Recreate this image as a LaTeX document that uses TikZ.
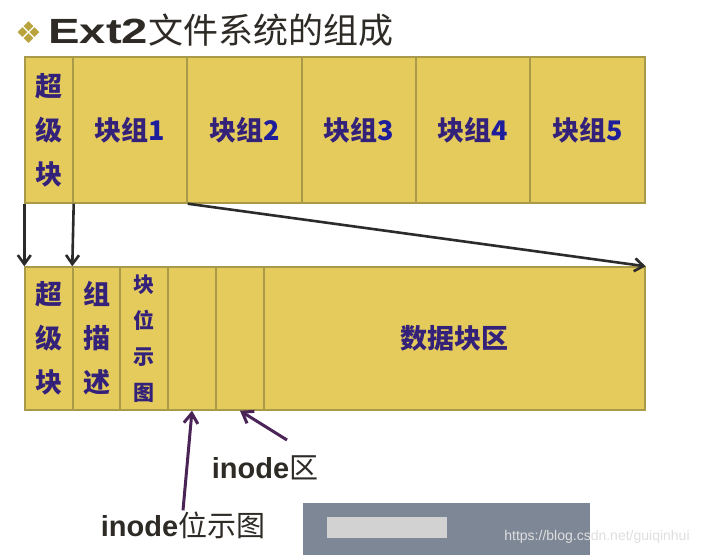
\documentclass[tikz,border=0pt]{standalone}
\usepackage{fontspec}
\usepackage{tikz}
\usetikzlibrary{arrows.meta}
\setmainfont{Liberation Sans}
\newfontfamily\cjk{Noto Sans CJK SC}
\newfontfamily\dingfont{DejaVu Sans}
\definecolor{blockfill}{HTML}{E4CB5C}
\definecolor{blockline}{HTML}{A89A48}
\definecolor{labelink}{HTML}{33217A}
\definecolor{numink}{HTML}{1E1E9C}
\definecolor{arrowink}{HTML}{2B2B2B}
\definecolor{pointink}{HTML}{4A2456}
\definecolor{titleink}{HTML}{2E2A26}
\definecolor{bulletink}{HTML}{B9A33C}
\definecolor{wmgray}{HTML}{7E8796}

\begin{document}
\begin{tikzpicture}[x=1pt,y=-1pt]
\tikzset{blk/.style = {shape=rectangle,draw=blockline,fill=blockfill,line width=1.4pt,inner sep=0pt,align=center,text=labelink,font=\cjk\bfseries\fontsize{27}{44}\selectfont}}
\tikzset{toprow/.style = {blk,minimum height=146pt}}
\tikzset{lowrow/.style = {blk,minimum height=143pt}}
\tikzset{edge/.style = {-{Straight Barb[length=9pt,width=13pt]},draw=arrowink,line width=2.6pt}}
\tikzset{pedge/.style = {-{Straight Barb[length=10pt,width=14pt]},draw=pointink,line width=3pt}}
\tikzset{ptlbl/.style = {text=titleink,inner sep=1pt,font=\fontsize{29}{31}\selectfont}}
\useasboundingbox (0,0) rectangle (711,555);
\fill[white] (0,0) rectangle (711,555);
% title
\node[anchor=west,text=titleink,font=\fontsize{35}{37}\selectfont] (title) at (12,30)
  {{\dingfont\color{bulletink}\fontsize{30}{32}\selectfont ❖}\hspace{6pt}\scalebox{1.35}[1]{\bfseries Ext2}{\cjk 文件系统的组成}};
% disk
\node[toprow,minimum width=48pt] (sb1) at (49,130) {超\\级\\块};
\node[toprow,minimum width=114pt] (g1) at (130,130) {块组{\color{numink}1}};
\node[toprow,minimum width=115pt] (g2) at (244.5,130) {块组{\color{numink}2}};
\node[toprow,minimum width=114pt] (g3) at (359,130) {块组{\color{numink}3}};
\node[toprow,minimum width=114pt] (g4) at (473,130) {块组{\color{numink}4}};
\node[toprow,minimum width=115pt] (g5) at (587.5,130) {块组{\color{numink}5}};
% block group
\node[lowrow,minimum width=48pt] (sb2) at (49,338.5) {超\\级\\块};
\node[lowrow,minimum width=47pt] (gd) at (96.5,338.5) {组\\描\\述};
\node[lowrow,minimum width=48pt,font=\cjk\bfseries\fontsize{21}{36}\selectfont] (bb) at (144,338.5) {块\\位\\示\\图};
\node[lowrow,minimum width=48pt] (ib) at (192,338.5) {};
\node[lowrow,minimum width=48pt] (it) at (240,338.5) {};
\node[lowrow,minimum width=381pt] (data) at (454.5,338.5) {数据块区};
% labels
\node[ptlbl] (lit) at (265,468) {{\bfseries inode}{\cjk 区}};
\node[ptlbl] (lbm) at (183,525) {{\bfseries inode}{\cjk 位示图}};
\coordinate (iztail) at (287,440);
%edges
\draw[edge] (sb1.south west) -- (sb2.north west);
\draw[edge] (sb1.south east) -- (gd.north west);
\draw[edge] (g1.south east) -- (data.north east);
\draw[pedge] (lbm.north) -- (ib.south);
\draw[pedge] (iztail) -- (it.south);
% watermark
\fill[wmgray] (303,503) rectangle (590,555);
\fill[gray!35] (327,517) rectangle (447,538);
\node[text=gray!25,font=\fontsize{14}{16}\selectfont] (wm) at (597,537) {https://blog.csdn.net/guiqinhui};
\end{tikzpicture}
\end{document}
